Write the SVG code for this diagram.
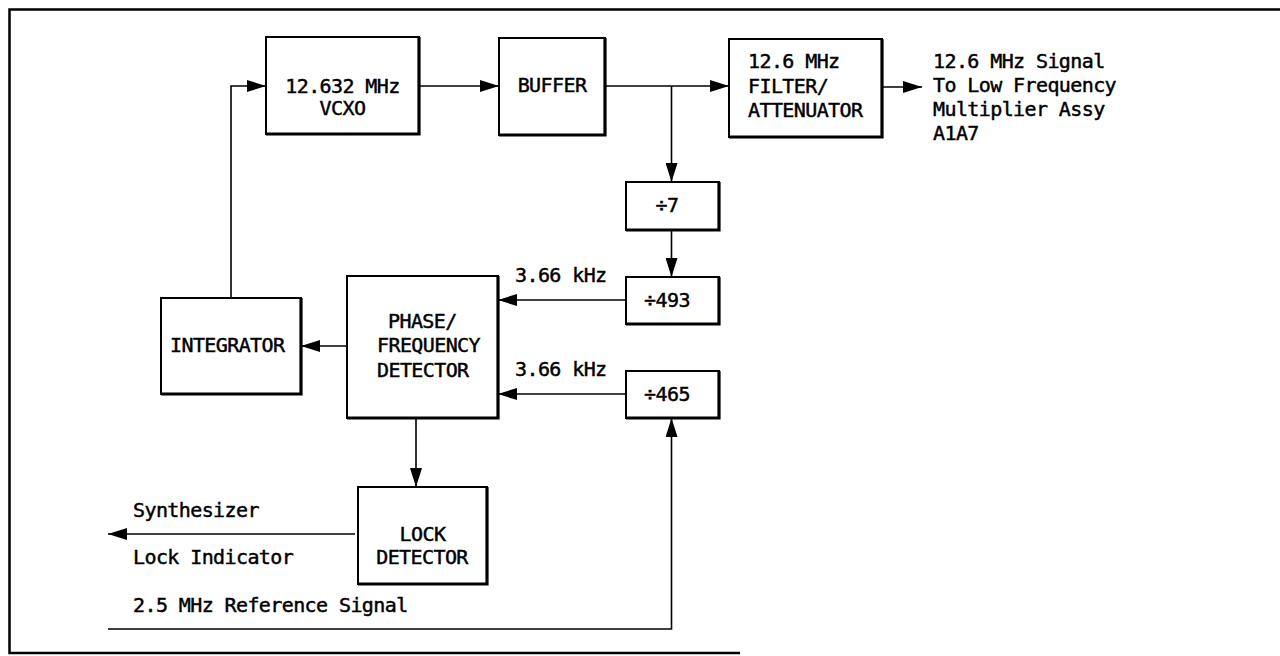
<svg xmlns="http://www.w3.org/2000/svg" width="1280" height="656" viewBox="0 0 1280 656">
<style>
text{font-family:"DejaVu Sans Mono","Liberation Mono",monospace;font-size:20px;letter-spacing:-0.6px;fill:#000;stroke:#000;stroke-width:0.45}
.m{text-anchor:middle}
.box{fill:#fff;stroke:#000;stroke-width:2}
.sh{fill:none;stroke:#000;stroke-width:3.2}
.c{fill:none;stroke:#000;stroke-width:1.6}
.frame{fill:none;stroke:#000;stroke-width:2.5}
</style>
<defs>
<marker id="ah" viewBox="0 0 19 12" refX="19" refY="6" markerWidth="19" markerHeight="12" markerUnits="userSpaceOnUse" orient="auto">
<path d="M0,0 L19,6 L0,12 z" fill="#000"/>
</marker>
</defs>
<rect width="1280" height="656" fill="#fff"/>
<path class="frame" d="M1280,9.5 H9.5 V653 H740"/>

<g id="connectors">
<path class="c" d="M231,298 V86 H266" marker-end="url(#ah)"/>
<path class="c" d="M419,86 H499" marker-end="url(#ah)"/>
<path class="c" d="M605,86 H729" marker-end="url(#ah)"/>
<path class="c" d="M671.5,86 V182" marker-end="url(#ah)"/>
<path class="c" d="M671.5,230 V277" marker-end="url(#ah)"/>
<path class="c" d="M626,300 H498" marker-end="url(#ah)"/>
<path class="c" d="M626,394 H498" marker-end="url(#ah)"/>
<path class="c" d="M347,346 H301" marker-end="url(#ah)"/>
<path class="c" d="M416,418 V487" marker-end="url(#ah)"/>
<path class="c" d="M355,534 H108" marker-end="url(#ah)"/>
<path class="c" d="M108,629 H671.5 V418" marker-end="url(#ah)"/>
<path class="c" d="M882,87 H922" marker-end="url(#ah)"/>
</g>

<g id="vcxo">
<rect class="box" x="266" y="37" width="153" height="97"/>
<path class="sh" d="M419,37 V134 H266"/>
<text class="m" x="342.5" y="93">12.632 MHz</text>
<text class="m" x="342.5" y="115">VCXO</text>
</g>

<g id="buffer">
<rect class="box" x="499" y="38" width="106" height="97"/>
<path class="sh" d="M605,38 V135 H499"/>
<text class="m" x="552" y="92">BUFFER</text>
</g>

<g id="filter">
<rect class="box" x="729" y="39" width="153" height="98"/>
<path class="sh" d="M882,39 V137 H729"/>
<text x="748" y="68">12.6 MHz</text>
<text x="748" y="92.5">FILTER/</text>
<text x="748" y="117">ATTENUATOR</text>
</g>

<g id="output-label">
<text x="933" y="68">12.6 MHz Signal</text>
<text x="933" y="92">To Low Frequency</text>
<text x="933" y="116">Multiplier Assy</text>
<text x="933" y="140">A1A7</text>
</g>

<g id="div7">
<rect class="box" x="626" y="182" width="93" height="48"/>
<path class="sh" d="M719,182 V230 H626"/>
<text class="m" x="667" y="212">÷7</text>
</g>

<g id="div493">
<rect class="box" x="626" y="277" width="93" height="47"/>
<path class="sh" d="M719,277 V324 H626"/>
<text class="m" x="667" y="307">÷493</text>
</g>

<g id="div465">
<rect class="box" x="626" y="371" width="93" height="47"/>
<path class="sh" d="M719,371 V418 H626"/>
<text class="m" x="667" y="401">÷465</text>
</g>

<g id="labels-3_66">
<text x="515" y="282">3.66 kHz</text>
<text x="515" y="376">3.66 kHz</text>
</g>

<g id="pfd">
<rect class="box" x="347" y="276" width="151" height="142"/>
<path class="sh" d="M498,276 V418 H347"/>
<text x="388" y="327.5">PHASE/</text>
<text x="377" y="352">FREQUENCY</text>
<text x="377" y="376.5">DETECTOR</text>
</g>

<g id="integrator">
<rect class="box" x="161" y="298" width="140" height="96"/>
<path class="sh" d="M301,298 V394 H161"/>
<text x="170" y="352">INTEGRATOR</text>
</g>

<g id="lock-detector">
<rect class="box" x="358" y="487" width="129" height="97"/>
<path class="sh" d="M487,487 V584 H358"/>
<text class="m" x="422.5" y="541">LOCK</text>
<text class="m" x="422" y="564">DETECTOR</text>
</g>

<g id="left-labels">
<text x="133" y="517">Synthesizer</text>
<text x="133" y="564">Lock Indicator</text>
<text x="133" y="612">2.5 MHz Reference Signal</text>
</g>
</svg>
